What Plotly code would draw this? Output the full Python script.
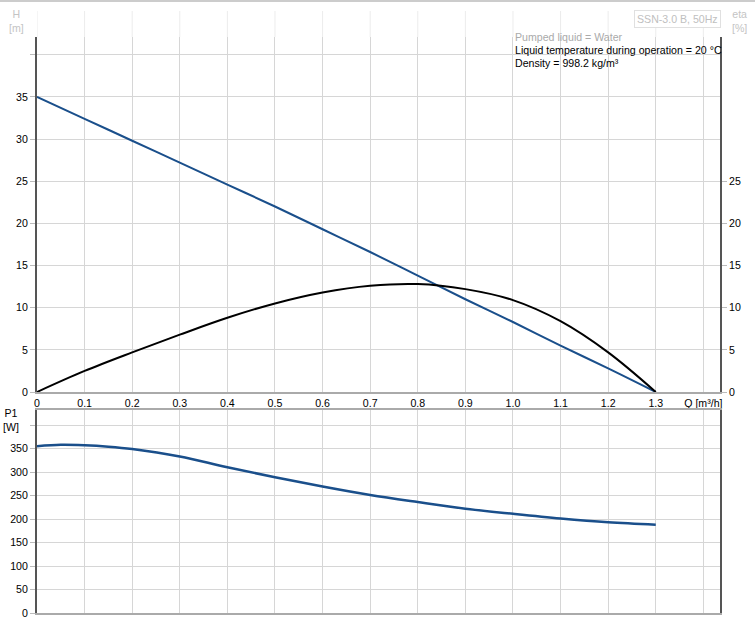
import plotly.graph_objects as go

# ---- data ----
q_h = [0, 0.1, 0.2, 0.3, 0.4, 0.5, 0.6, 0.7, 0.8, 0.9, 1.0, 1.1, 1.2, 1.3]
h_vals = [35, 32.4, 29.8, 27.2, 24.6, 22.0, 19.3, 16.6, 13.8, 11.0, 8.3, 5.5, 2.8, 0]

q_eta = [0, 0.1, 0.2, 0.3, 0.4, 0.5, 0.6, 0.7, 0.8, 0.9, 1.0, 1.1, 1.2, 1.3]
eta_vals = [0, 2.5, 4.7, 6.8, 8.8, 10.5, 11.8, 12.6, 12.8, 12.2, 10.9, 8.4, 4.7, 0]

q_p1 = [0, 0.05, 0.1, 0.15, 0.2, 0.3, 0.4, 0.5, 0.6, 0.7, 0.8, 0.9, 1.0, 1.1, 1.2, 1.3]
p1_vals = [355, 358, 357, 354, 349, 333, 310, 289, 269, 251, 236, 222, 211, 201, 193, 188]

x_ticks = [0, 0.1, 0.2, 0.3, 0.4, 0.5, 0.6, 0.7, 0.8, 0.9, 1.0, 1.1, 1.2, 1.3, 1.4]
x_labels = ["0", "0.1", "0.2", "0.3", "0.4", "0.5", "0.6", "0.7", "0.8", "0.9",
            "1.0", "1.1", "1.2", "1.3", "Q [m³/h]"]
h_ticks = [0, 5, 10, 15, 20, 25, 30, 35, 40]
h_labels = ["0", "5", "10", "15", "20", "25", "30", "35", ""]
eta_ticks = [0, 5, 10, 15, 20, 25]
p1_ticks = [0, 50, 100, 150, 200, 250, 300, 350, 400]
p1_labels = ["0", "50", "100", "150", "200", "250", "300", "350", ""]

BLUE = "#1a4f8b"
GRID = "#d6d6d6"
FONT = "Liberation Sans, Arial, sans-serif"
FS = 10.6

fig = go.Figure()
fig.add_trace(go.Scatter(x=q_h, y=h_vals, mode="lines", line=dict(color=BLUE, width=2, shape="spline"),
                         xaxis="x", yaxis="y", showlegend=False, hoverinfo="skip"))
fig.add_trace(go.Scatter(x=q_eta, y=eta_vals, mode="lines", line=dict(color="black", width=2, shape="spline"),
                         xaxis="x", yaxis="y3", showlegend=False, hoverinfo="skip"))
fig.add_trace(go.Scatter(x=q_p1, y=p1_vals, mode="lines", line=dict(color=BLUE, width=2.5, shape="spline"),
                         xaxis="x2", yaxis="y2", showlegend=False, hoverinfo="skip"))

XR = [0, 1.435]
TF = dict(family=FONT, size=FS, color="black")
ax_common = dict(showgrid=True, gridcolor=GRID, gridwidth=1, zeroline=False, automargin=False, tickfont=TF)

fig.update_layout(
    width=755, height=628,
    margin=dict(l=37, r=35, t=37, b=15, autoexpand=False),
    paper_bgcolor="white", plot_bgcolor="white",
    font=dict(family=FONT, size=FS, color="black"),
    xaxis=dict(domain=[0, 1], range=XR, anchor="y", tickmode="array", tickvals=x_ticks, ticktext=x_labels,
               showline=True, linecolor="#aaaaaa", linewidth=2, ticks="", **ax_common),
    yaxis=dict(domain=[221 / 576, 1], range=[0, 42.1], anchor="x", tickmode="array", tickvals=h_ticks,
               ticktext=h_labels, showline=True, linecolor="#555555", linewidth=2, ticks="outside",
               ticklen=5, tickcolor="#bbbbbb", **ax_common),
    yaxis3=dict(overlaying="y", side="right", anchor="x", range=[0, 42.1], tickmode="array",
                tickvals=eta_ticks, showline=True, linecolor="#555555", linewidth=2, ticks="outside",
                ticklen=5, tickcolor="#bbbbbb", showgrid=False, zeroline=False, automargin=False,
                tickfont=TF),
    xaxis2=dict(domain=[0, 1], range=XR, anchor="y2", tickmode="array", tickvals=x_ticks,
                showticklabels=False, showline=True, linecolor="#aaaaaa", linewidth=2, mirror=True,
                **ax_common),
    yaxis2=dict(domain=[0, 203 / 576], range=[0, 432], anchor="x2", tickmode="array", tickvals=p1_ticks,
                ticktext=p1_labels, showline=True, linecolor="#555555", linewidth=2, mirror=True,
                ticks="outside", ticklen=5, tickcolor="#bbbbbb", **ax_common),
)

shapes = []
# light extension of vertical grid above plot
for xv in x_ticks:
    shapes.append(dict(type="line", xref="x", yref="paper", x0=xv, x1=xv, y0=1.0, y1=(613 - 11) / 576,
                       line=dict(color="#ececec", width=1), layer="below"))
# outer top border
shapes.append(dict(type="line", xref="paper", yref="paper", x0=-37 / 683, x1=718 / 683,
                   y0=(613 - 1) / 576, y1=(613 - 1) / 576, line=dict(color="#cccccc", width=2)))
fig.update_layout(shapes=shapes)

ann = [
    dict(text="H<br>[m]", x=(16 - 37) / 683, y=(613 - 21) / 576, font=dict(color="#c4c4c4", size=FS)),
    dict(text="P1<br>[W]", x=(11 - 37) / 683, y=(613 - 420) / 576, font=dict(color="black", size=FS)),
    dict(text="eta<br>[%]", x=(740 - 37) / 683, y=(613 - 21) / 576, font=dict(color="#c4c4c4", size=FS)),
    dict(text="SSN-3.0 B, 50Hz", x=(677 - 37) / 683, y=(613 - 19) / 576, font=dict(color="#c0c0c0", size=FS),
         bordercolor="#e0e0e0", borderwidth=1, borderpad=2, bgcolor="white"),
    dict(text="Pumped liquid = Water", x=(513 - 37) / 683, y=(613 - 37) / 576, xanchor="left",
         font=dict(color="#aaaaaa", size=FS)),
    dict(text="Liquid temperature during operation = 20 °C", x=(513 - 37) / 683, y=(613 - 50) / 576,
         xanchor="left", font=dict(color="black", size=FS)),
    dict(text="Density = 998.2 kg/m³", x=(513 - 37) / 683, y=(613 - 63) / 576, xanchor="left",
         font=dict(color="black", size=FS)),
]
for a in ann:
    a.setdefault("xanchor", "center")
    a.update(xref="paper", yref="paper", yanchor="middle", showarrow=False)
fig.update_layout(annotations=ann)

fig.write_html("out.html", config={"displayModeBar": False},
               post_script="document.body.style.margin='0px';")
